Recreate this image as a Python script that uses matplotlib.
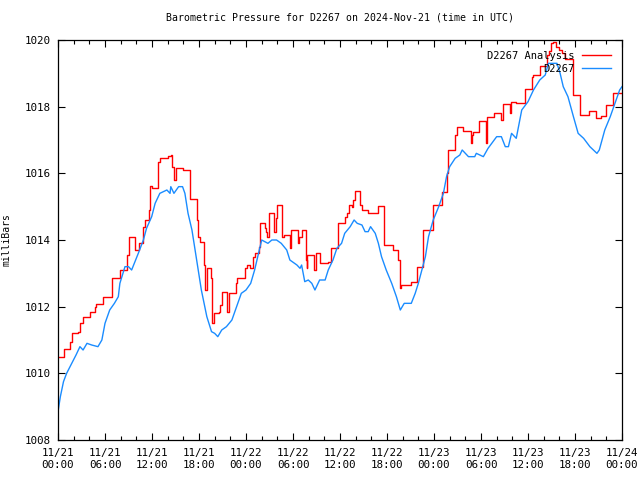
import matplotlib
matplotlib.use("Agg")
import matplotlib.pyplot as plt
from matplotlib.ticker import MultipleLocator
import pandas as pd

# hours since 2024-11-21 00:00 UTC, pressure in mb
analysis_hours = [0.0, 0.8, 1.5, 1.75, 2.6, 2.8, 3.2, 4.1, 4.7, 4.9, 5.8, 6.85, 7.9, 8.8, 9.0, 9.8,
                  10.4, 10.9, 11.1, 11.6, 11.8, 11.95, 12.8, 13.0, 14.1, 14.4, 14.6, 14.8, 15.1, 15.9,
                  16.8, 16.9, 17.7, 17.9, 18.1, 18.6, 18.8, 19.0, 19.5, 19.6, 19.7, 19.9, 20.5, 20.7,
                  20.9, 21.6, 21.8, 22.7, 22.9, 23.9, 24.1, 24.5, 24.9, 25.1, 25.6, 25.8, 26.4, 26.55,
                  26.7, 26.9, 27.6, 27.8, 28.0, 28.6, 28.9, 29.6, 29.8, 30.7, 30.8, 31.1, 31.7, 31.8,
                  31.85, 32.7, 32.9, 33.5, 34.5, 34.8, 34.9, 35.7, 36.6, 36.9, 37.2, 37.5, 37.7, 37.9,
                  38.6, 38.8, 39.6, 40.8, 41.65, 42.8, 43.45, 43.6, 43.7, 43.8, 45.0, 45.8, 46.6, 47.9,
                  49.0, 49.6, 49.8, 50.7, 50.9, 51.7, 52.7, 52.8, 53.0, 53.8, 54.6, 54.8, 55.6, 56.6,
                  56.85, 57.7, 57.8, 58.5, 59.6, 60.5, 60.7, 61.5, 62.4, 62.7, 62.9, 63.2, 63.6, 63.9,
                  64.3, 64.7, 65.7, 66.7, 67.8, 68.7, 69.3, 70.0, 70.9, 72.0]
analysis_mb = [1010.48, 1010.72, 1010.95, 1011.2, 1011.25, 1011.5, 1011.7, 1011.85, 1012.0, 1012.08,
               1012.3, 1012.85, 1013.1, 1013.55, 1014.08, 1013.7, 1013.9, 1014.4, 1014.6, 1014.9,
               1015.62, 1015.55, 1016.35, 1016.45, 1016.52, 1016.55, 1016.2, 1015.8, 1016.15, 1016.1,
               1015.45, 1015.22, 1014.6, 1014.1, 1013.95, 1013.25, 1012.5, 1013.15, 1012.85, 1011.6,
               1011.5, 1011.8, 1011.85, 1012.05, 1012.45, 1011.85, 1012.4, 1012.7, 1012.85, 1013.15,
               1013.25, 1013.15, 1013.5, 1013.6, 1013.8, 1014.5, 1014.35, 1014.25, 1014.1, 1014.82,
               1014.25, 1014.65, 1015.05, 1014.1, 1014.15, 1013.75, 1014.3, 1013.9, 1014.1, 1014.3,
               1013.4, 1013.15, 1013.55, 1013.1, 1013.6, 1013.3, 1013.35, 1013.6, 1013.75, 1014.52,
               1014.7, 1014.82, 1015.05, 1015.0, 1015.2, 1015.48, 1015.05, 1014.9, 1014.8, 1015.02,
               1013.85, 1013.7, 1013.4, 1012.78, 1012.55, 1012.65, 1012.75, 1013.18, 1014.3, 1015.05,
               1015.45, 1016.0, 1016.7, 1017.15, 1017.38, 1017.28, 1016.9, 1017.15, 1017.25, 1017.58,
               1016.92, 1017.7, 1017.82, 1017.6, 1018.08, 1017.8, 1018.15, 1018.12, 1018.52, 1018.9,
               1018.95, 1019.22, 1019.55, 1019.68, 1019.9, 1019.95, 1019.8, 1019.7, 1019.6, 1019.42,
               1018.35, 1017.75, 1017.87, 1017.65, 1017.72, 1018.05, 1018.4, 1018.4]

obs_hours = [0.0, 0.3, 0.7, 1.1, 1.75, 2.3, 2.8, 3.2, 3.7, 4.3, 5.1, 5.6, 6.0, 6.6, 7.2, 7.7, 7.9,
             8.55, 9.0, 9.4, 10.25, 10.9, 11.3, 11.96, 12.4, 13.0, 13.9, 14.3, 14.4, 14.8, 15.4, 15.9,
             16.2, 16.6, 17.1, 17.7, 18.3, 19.0, 19.6, 20.0, 20.4, 20.9, 21.5, 22.2, 22.8, 23.4, 24.0,
             24.6, 25.1, 25.6, 26.0, 26.4, 26.8, 27.3, 27.9, 28.5, 29.2, 29.6, 30.5, 30.9, 31.1, 31.5,
             31.95, 32.4, 32.8, 33.4, 34.1, 34.5, 35.1, 35.6, 36.2, 36.6, 37.3, 37.8, 38.2, 38.8, 39.2,
             39.6, 39.9, 40.5, 40.9, 41.3, 41.9, 42.6, 43.2, 43.7, 44.2, 45.1, 45.6, 46.0, 46.4, 46.9,
             47.3, 47.9, 48.6, 49.2, 49.6, 50.0, 50.7, 51.3, 51.6, 52.4, 53.2, 53.4, 54.3, 54.9, 56.0,
             56.6, 57.1, 57.5, 57.9, 58.5, 59.2, 60.0, 60.7, 61.5, 62.2, 62.6, 63.7, 64.1, 64.5, 65.1,
             65.8, 66.4, 67.1, 67.9, 68.8, 69.1, 69.8, 70.5, 71.1, 71.7, 72.0]
obs_mb = [1008.85, 1009.3, 1009.75, 1010.0, 1010.3, 1010.55, 1010.8, 1010.7, 1010.9, 1010.85, 1010.8,
          1011.0, 1011.5, 1011.9, 1012.1, 1012.3, 1012.7, 1013.2, 1013.2, 1013.1, 1013.6, 1014.0,
          1014.35, 1014.7, 1015.1, 1015.4, 1015.5, 1015.4, 1015.6, 1015.4, 1015.6, 1015.6, 1015.4,
          1014.8, 1014.3, 1013.4, 1012.5, 1011.7, 1011.25, 1011.2, 1011.1, 1011.3, 1011.4, 1011.6,
          1012.0, 1012.4, 1012.5, 1012.7, 1013.1, 1013.6, 1014.0, 1013.95, 1013.9, 1014.0, 1014.0,
          1013.9, 1013.7, 1013.4, 1013.25, 1013.15, 1013.25, 1012.75, 1012.8, 1012.7, 1012.5, 1012.8,
          1012.8, 1013.1, 1013.4, 1013.75, 1013.9, 1014.2, 1014.4, 1014.6, 1014.5, 1014.45, 1014.25,
          1014.25, 1014.4, 1014.2, 1013.9, 1013.5, 1013.1, 1012.7, 1012.3, 1011.9, 1012.1, 1012.1,
          1012.4, 1012.7, 1013.05, 1013.5, 1014.1, 1014.6, 1015.0, 1015.4, 1015.9, 1016.2, 1016.45,
          1016.55, 1016.7, 1016.5, 1016.5, 1016.6, 1016.5, 1016.75, 1017.1, 1017.1, 1016.8, 1016.8,
          1017.2, 1017.05, 1017.9, 1018.15, 1018.5, 1018.8, 1018.95, 1019.3, 1019.3, 1019.0, 1018.6,
          1018.3, 1017.7, 1017.2, 1017.05, 1016.8, 1016.6, 1016.7, 1017.3, 1017.7, 1018.1, 1018.5,
          1018.6]

tick_times = pd.date_range("2024-11-21 00:00", "2024-11-24 00:00", freq="6h")
tick_labels = [t.strftime("%m/%d\n%H:%M") for t in tick_times]
tick_hours = [(t - tick_times[0]).total_seconds() / 3600 for t in tick_times]

plt.rcParams['font.family'] = ['DejaVu Sans Mono']

fig = plt.figure(figsize=(6.4, 4.8), dpi=100)
ax = fig.add_axes([58 / 640, 40 / 480, 564 / 640, 400 / 480])

ax.plot(analysis_hours, analysis_mb, color="#ff0000", lw=1.0, drawstyle="steps-post",
        label="D2267 Analysis")
ax.plot(obs_hours, obs_mb, color="#1a8cff", lw=1.0, label="D2267")

ax.set_xlim(0, 72)
ax.set_ylim(1008, 1020)
ax.set_xticks(tick_hours)
ax.set_xticklabels(tick_labels, linespacing=1.25)
ax.xaxis.set_minor_locator(MultipleLocator(2))
ax.yaxis.set_major_locator(MultipleLocator(2))
ax.tick_params(which="both", direction="in", top=True, right=True, labelsize=7.8, width=0.8)
ax.tick_params(which="major", length=5)
ax.tick_params(which="minor", length=3)
ax.tick_params(axis="x", pad=6)
ax.tick_params(axis="y", pad=5)
for s in ax.spines.values():
    s.set_linewidth(0.9)

ax.set_ylabel("milliBars", fontsize=7, labelpad=10)
ax.set_title("Barometric Pressure for D2267 on 2024-Nov-21 (time in UTC)", fontsize=7.1, pad=14)

ax.legend(loc="upper right", frameon=False, markerfirst=False, fontsize=7.5,
          handlelength=2.8, labelspacing=0.3, borderaxespad=0.75, borderpad=0.3,
          handletextpad=0.7)

fig.savefig("out.png", dpi=100)
